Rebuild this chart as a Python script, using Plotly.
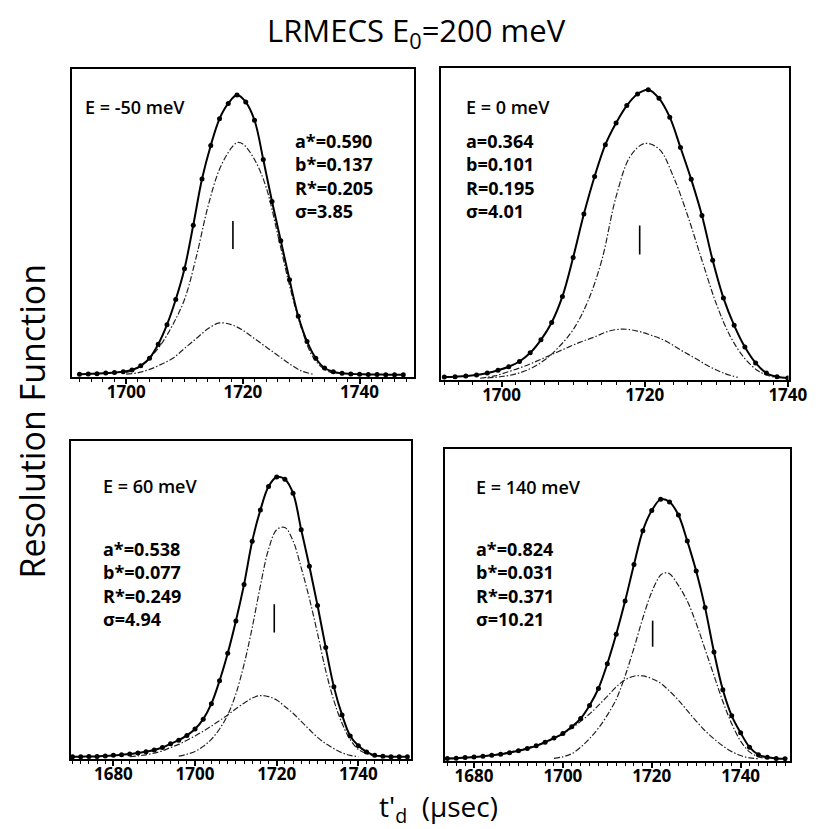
import plotly.graph_objects as go

W, H = 822, 829

# ---------------- data ----------------
# Panel 1: E = -50 meV
p1_data_t = [1692.0, 1693.5, 1695.0, 1696.5, 1698.0, 1699.5, 1701.0, 1702.5, 1704.0, 1705.5,
             1707.0, 1708.5, 1710.0, 1711.5, 1713.0, 1714.5, 1716.0, 1717.5, 1719.0, 1720.5,
             1722.0, 1723.5, 1725.0, 1726.5, 1728.0, 1729.5, 1731.0, 1732.5, 1734.0, 1735.5,
             1737.0, 1738.5, 1740.0, 1741.5, 1743.0, 1744.5, 1746.0, 1747.5]
p1_data_y = [0.003, 0.004, 0.005, 0.007, 0.009, 0.012, 0.018, 0.033, 0.06, 0.11,
             0.18, 0.27, 0.38, 0.535, 0.70, 0.82, 0.915, 0.97, 1.0, 0.975,
             0.91, 0.77, 0.62, 0.48, 0.34, 0.21, 0.12, 0.06, 0.025, 0.012,
             0.006, 0.004, 0.003, 0.002, 0.002, 0.001, 0.001, 0.001]
p1_big_t = [1700, 1702, 1704, 1706, 1708, 1710, 1712, 1714, 1716, 1718, 1719, 1720,
            1722, 1724, 1726, 1728, 1730, 1732, 1734, 1736]
p1_big_y = [0.008, 0.025, 0.06, 0.11, 0.18, 0.27, 0.42, 0.60, 0.735, 0.81, 0.83, 0.825,
            0.77, 0.67, 0.50, 0.32, 0.17, 0.065, 0.02, 0.004]
p1_small_t = [1700, 1702, 1704, 1706, 1708, 1710, 1712, 1714, 1716, 1718, 1720, 1722,
              1724, 1726, 1728, 1730, 1732]
p1_small_y = [0.003, 0.008, 0.02, 0.038, 0.06, 0.095, 0.13, 0.165, 0.186, 0.18, 0.16, 0.13,
              0.10, 0.07, 0.04, 0.015, 0.003]
p1_mark = [1718.3, 0.45, 0.55]
p1_label = "E = -50 meV"
p1_params = ["a*=0.590", "b*=0.137", "R*=0.205", "σ=3.85"]

# Panel 2: E = 0 meV
p2_data_t = [1692.0, 1693.5, 1695.0, 1696.5, 1698.0, 1699.5, 1701.0, 1702.5, 1704.0, 1705.5,
             1707.0, 1708.5, 1710.0, 1711.5, 1713.0, 1714.5, 1716.0, 1717.5, 1719.0, 1720.5,
             1722.0, 1723.5, 1725.0, 1726.5, 1728.0, 1729.5, 1731.0, 1732.5, 1734.0, 1735.5,
             1737.0, 1738.5, 1740.0]
p2_data_y = [0.006, 0.007, 0.010, 0.013, 0.02, 0.03, 0.042, 0.06, 0.09, 0.135,
             0.195, 0.285, 0.42, 0.57, 0.70, 0.81, 0.885, 0.945, 0.985, 1.0,
             0.97, 0.905, 0.80, 0.69, 0.565, 0.41, 0.28, 0.185, 0.11, 0.055,
             0.02, 0.007, 0.003]
p2_big_t = [1698, 1700, 1702, 1704, 1706, 1708, 1710, 1712, 1714, 1716, 1718, 1720,
            1722, 1724, 1726, 1728, 1730, 1732, 1734, 1736, 1738]
p2_big_y = [0.003, 0.008, 0.017, 0.035, 0.065, 0.11, 0.17, 0.265, 0.41, 0.63, 0.77, 0.814,
            0.795, 0.70, 0.565, 0.41, 0.26, 0.145, 0.07, 0.025, 0.006]
p2_small_t = [1697, 1699, 1701, 1703, 1705, 1707, 1709, 1711, 1713, 1715, 1717, 1719,
              1721, 1723, 1725, 1727, 1729, 1731, 1733]
p2_small_y = [0.002, 0.01, 0.025, 0.042, 0.062, 0.084, 0.106, 0.127, 0.145, 0.165, 0.172, 0.165,
              0.15, 0.13, 0.10, 0.072, 0.043, 0.02, 0.005]
p2_mark = [1719.3, 0.43, 0.53]
p2_label = "E = 0 meV"
p2_params = ["a=0.364", "b=0.101", "R=0.195", "σ=4.01"]

# Panel 3: E = 60 meV
p3_data_t = [1670, 1672, 1674, 1676, 1678, 1680, 1682, 1684, 1686, 1688, 1690, 1692,
             1694, 1696, 1698, 1700, 1702, 1704, 1706, 1708, 1710, 1712, 1714, 1716,
             1718, 1720, 1722, 1724, 1726, 1728, 1730, 1732, 1734, 1736, 1738, 1740,
             1742, 1744, 1746, 1748, 1750, 1752]
p3_data_y = [0.001, 0.001, 0.002, 0.002, 0.004, 0.006, 0.008, 0.011, 0.014, 0.019, 0.025, 0.034,
             0.047, 0.06, 0.077, 0.10, 0.135, 0.19, 0.272, 0.37, 0.485, 0.615, 0.769, 0.88,
             0.964, 0.998, 0.99, 0.94, 0.81, 0.68, 0.54, 0.39, 0.25, 0.15, 0.075, 0.04,
             0.018, 0.006, 0.003, 0.001, 0.001, 0.001]
p3_big_t = [1696, 1698, 1700, 1702, 1704, 1706, 1708, 1710, 1712, 1714, 1716, 1718, 1720,
            1722, 1724, 1726, 1728, 1730, 1732, 1734, 1736, 1738, 1740, 1742, 1744]
p3_big_y = [0.003, 0.01, 0.02, 0.038, 0.063, 0.10, 0.15, 0.225, 0.33, 0.461, 0.61, 0.74, 0.81,
            0.818, 0.77, 0.674, 0.565, 0.44, 0.308, 0.201, 0.12, 0.062, 0.027, 0.012, 0.003]
p3_small_t = [1684, 1686, 1688, 1690, 1692, 1694, 1696, 1698, 1700, 1702, 1704, 1706, 1708,
              1710, 1712, 1714, 1716, 1718, 1720, 1722, 1724, 1726, 1728, 1730, 1732, 1734,
              1736, 1738, 1740]
p3_small_y = [0.001, 0.004, 0.008, 0.014, 0.022, 0.034, 0.045, 0.06, 0.075, 0.092, 0.11, 0.13, 0.15,
              0.172, 0.192, 0.21, 0.219, 0.215, 0.203, 0.18, 0.156, 0.127, 0.098, 0.07, 0.048, 0.03,
              0.015, 0.006, 0.001]
p3_mark = [1719.4, 0.444, 0.544]
p3_label = "E = 60 meV"
p3_params = ["a*=0.538", "b*=0.077", "R*=0.249", "σ=4.94"]

# Panel 4: E = 140 meV
p4_data_t = [1674, 1676, 1678, 1680, 1682, 1684, 1686, 1688, 1690, 1692, 1694, 1696, 1698,
             1700, 1702, 1704, 1706, 1708, 1710, 1712, 1714, 1716, 1718, 1720, 1722, 1724,
             1726, 1728, 1730, 1732, 1734, 1736, 1738, 1740, 1742, 1744, 1746, 1748, 1750]
p4_data_y = [0.002, 0.003, 0.005, 0.007, 0.01, 0.014, 0.018, 0.024, 0.031, 0.04, 0.05, 0.064, 0.08,
             0.097, 0.123, 0.155, 0.205, 0.27, 0.365, 0.478, 0.605, 0.745, 0.875, 0.952, 0.995, 0.985,
             0.935, 0.835, 0.72, 0.58, 0.41, 0.265, 0.165, 0.10, 0.045, 0.016, 0.006, 0.002, 0.001]
p4_big_t = [1698, 1700, 1702, 1704, 1706, 1708, 1710, 1712, 1714, 1716, 1718, 1720, 1722,
            1723, 1724, 1726, 1728, 1730, 1732, 1734, 1736, 1738, 1740, 1742, 1744, 1746]
p4_big_y = [0.002, 0.008, 0.02, 0.045, 0.078, 0.118, 0.168, 0.228, 0.318, 0.425, 0.54, 0.64, 0.705,
            0.713, 0.71, 0.665, 0.605, 0.52, 0.42, 0.32, 0.22, 0.135, 0.068, 0.027, 0.008, 0.002]
p4_small_t = [1674, 1678, 1682, 1686, 1690, 1694, 1698, 1702, 1706, 1708, 1710, 1712, 1714, 1716,
              1718, 1720, 1722, 1724, 1726, 1728, 1730, 1732, 1734, 1736, 1738, 1740, 1742, 1744]
p4_small_y = [0.002, 0.005, 0.01, 0.02, 0.034, 0.052, 0.078, 0.118, 0.172, 0.205, 0.24, 0.276, 0.303,
              0.317, 0.318, 0.308, 0.29, 0.26, 0.225, 0.185, 0.145, 0.108, 0.077, 0.05, 0.028, 0.013,
              0.004, 0.001]
p4_mark = [1720.2, 0.43, 0.53]
p4_label = "E = 140 meV"
p4_params = ["a*=0.824", "b*=0.031", "R*=0.371", "σ=10.21"]

title_text = "LRMECS E<sub>0</sub>=200 meV"
ytitle_text = "Resolution Function"
xtitle_text = "t'<sub>d</sub>  (µsec)"

# ---------------- layout (pixel geometry) ----------------
FONT = "'Open Sans', Lato, 'DejaVu Sans', sans-serif"
panels = [
    dict(data_t=p1_data_t, data_y=p1_data_y, big_t=p1_big_t, big_y=p1_big_y,
         small_t=p1_small_t, small_y=p1_small_y, mark=p1_mark, label=p1_label, params=p1_params,
         box=(66, 61, 416, 369), xr=(1690.8, 1749.4), yr=(-0.007, 1.093),
         label_xy=(77, 99), par_xy=(292, 119)),
    dict(data_t=p2_data_t, data_y=p2_data_y, big_t=p2_big_t, big_y=p2_big_y,
         small_t=p2_small_t, small_y=p2_small_y, mark=p2_mark, label=p2_label, params=p2_params,
         box=(443, 60, 799, 372), xr=(1691.5, 1740.1), yr=(-0.004, 1.075),
         label_xy=(467, 99), par_xy=(467, 119)),
    dict(data_t=p3_data_t, data_y=p3_data_y, big_t=p3_big_t, big_y=p3_big_y,
         small_t=p3_small_t, small_y=p3_small_y, mark=p3_mark, label=p3_label, params=p3_params,
         box=(64, 433, 413, 751), xr=(1669.5, 1753.0), yr=(-0.007, 1.126),
         label_xy=(95, 478), par_xy=(95, 527)),
    dict(data_t=p4_data_t, data_y=p4_data_y, big_t=p4_big_t, big_y=p4_big_y,
         small_t=p4_small_t, small_y=p4_small_y, mark=p4_mark, label=p4_label, params=p4_params,
         box=(447, 441, 800, 753), xr=(1673.4, 1751.0), yr=(-0.008, 1.188),
         label_xy=(477, 479), par_xy=(477, 527)),
]

fig = go.Figure()
annotations = []

for i, p in enumerate(panels):
    k = "" if i == 0 else str(i + 1)
    xa, ya = "x" + k, "y" + k
    comp_style = dict(color="#222", width=1.2, dash="6px,2px,1.5px,2px")
    fig.add_trace(go.Scatter(x=p["big_t"], y=p["big_y"], mode="lines", line_shape="spline",
                             line=comp_style, xaxis=xa, yaxis=ya, showlegend=False))
    fig.add_trace(go.Scatter(x=p["small_t"], y=p["small_y"], mode="lines", line_shape="spline",
                             line=comp_style, xaxis=xa, yaxis=ya, showlegend=False))
    fig.add_trace(go.Scatter(x=p["data_t"], y=p["data_y"], mode="lines+markers", line_shape="spline",
                             line=dict(color="black", width=2),
                             marker=dict(color="black", size=5, symbol="circle"),
                             xaxis=xa, yaxis=ya, showlegend=False))
    m = p["mark"]
    fig.add_trace(go.Scatter(x=[m[0], m[0]], y=[m[1], m[2]], mode="lines",
                             line=dict(color="black", width=1.6), xaxis=xa, yaxis=ya, showlegend=False))

    x0, y0, x1, y1 = p["box"]
    fig.layout["xaxis" + k] = dict(
        domain=[x0 / W, x1 / W], range=list(p["xr"]), anchor=ya,
        showline=True, linecolor="black", linewidth=2, mirror=True,
        showgrid=False, zeroline=False,
        tickmode="linear", tick0=1700, dtick=20, ticks="outside", ticklen=5,
        tickwidth=1.5, tickcolor="black", ticklabelstandoff=-6,
        minor=dict(dtick=2, tick0=1700, ticks="outside", ticklen=3, tickwidth=1,
                   tickcolor="black", showgrid=False),
        tickfont=dict(family=FONT, size=17, color="black", weight="bold"),
    )
    fig.layout["yaxis" + k] = dict(
        domain=[1 - y1 / H, 1 - y0 / H], range=list(p["yr"]), anchor=xa,
        showline=True, linecolor="black", linewidth=2, mirror=True,
        showgrid=False, zeroline=False, showticklabels=False, ticks="",
    )

    lx, ly = p["label_xy"]
    annotations.append(dict(text=p["label"], x=lx / W, y=1 - ly / H, xref="paper", yref="paper",
                            xanchor="left", yanchor="middle", showarrow=False,
                            font=dict(family=FONT, size=18, color="black", weight=600)))
    px, py = p["par_xy"]
    annotations.append(dict(text="<br>".join(p["params"]), x=px / W, y=1 - py / H,
                            xref="paper", yref="paper", xanchor="left", yanchor="top",
                            align="left", showarrow=False,
                            font=dict(family=FONT, size=18, color="black", weight="bold")))

annotations.append(dict(text=title_text, x=418 / W, y=1 - 24 / H, xref="paper", yref="paper",
                        xanchor="center", yanchor="middle", showarrow=False,
                        font=dict(family=FONT, size=31, color="black")))
annotations.append(dict(text=ytitle_text, x=25 / W, y=1 - 413 / H, xref="paper", yref="paper",
                        xanchor="center", yanchor="middle", showarrow=False, textangle=-90,
                        font=dict(family=FONT, size=34, color="black")))
annotations.append(dict(text=xtitle_text, x=441 / W, y=1 - 800 / H, xref="paper", yref="paper",
                        xanchor="center", yanchor="middle", showarrow=False,
                        font=dict(family=FONT, size=28, color="black")))

fig.update_layout(width=W, height=H, margin=dict(l=0, r=0, t=0, b=0),
                  paper_bgcolor="white", plot_bgcolor="white", annotations=annotations)

fig.write_html("out.html")
